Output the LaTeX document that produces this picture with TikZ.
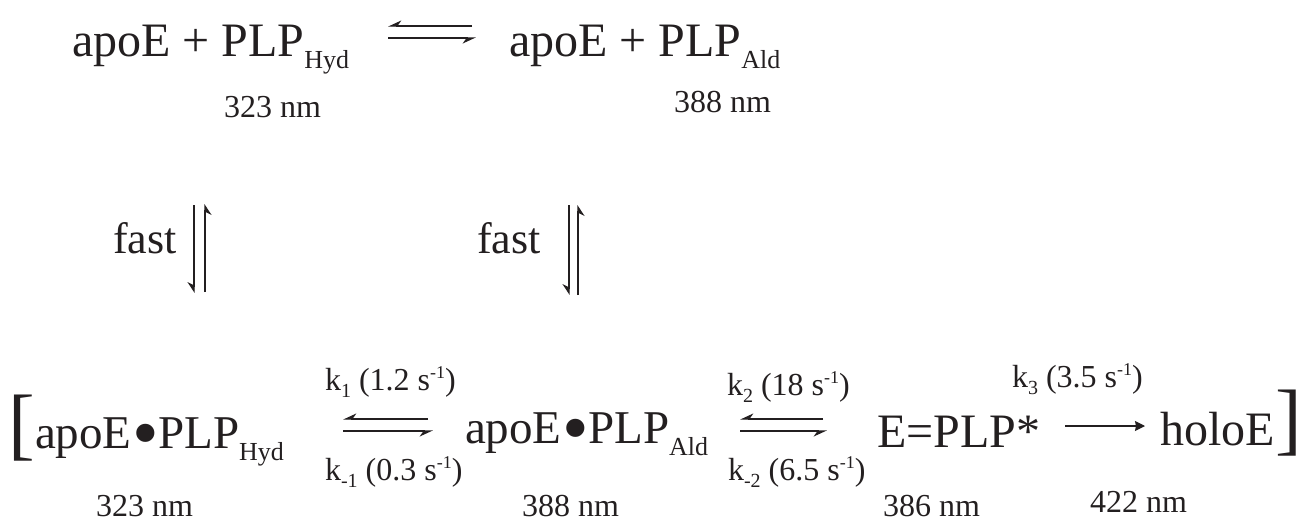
\documentclass[tikz,border=0pt]{standalone}
\usepackage{fontspec}
\setmainfont{Liberation Serif}
\usetikzlibrary{arrows.meta}
\definecolor{ink}{RGB}{35,31,32}
\newcommand{\spsub}[1]{\raisebox{-12pt}{\fontsize{26}{26}\selectfont #1}}
\newcommand{\ksb}[1]{\raisebox{-7pt}{\fontsize{20}{20}\selectfont #1}}
\newcommand{\ksp}[1]{\raisebox{12pt}{\fontsize{18}{18}\selectfont #1}}
\newcommand{\bul}{\hspace{1pt}\raisebox{-10pt}{\fontsize{76}{76}\selectfont •}\hspace{-1pt}}
\begin{document}
\begin{tikzpicture}[x=1pt,y=-1pt,
  every node/.style={inner sep=0pt,outer sep=0pt,anchor=base west,text=ink},
  species/.style={font=\fontsize{48}{56}\selectfont},
  bspecies/.style={font=\fontsize{47}{54}\selectfont},
  fastlbl/.style={font=\fontsize{44}{52}\selectfont},
  small/.style={font=\fontsize{32}{38}\selectfont},
  brack/.style={font=\fontsize{80}{90}\selectfont},
  rxn/.style={draw=ink,line width=1.2pt},
  hb/.style={rxn,-{Stealth[harpoon,swap,length=12pt,width=11pt]}},
  vb/.style={rxn,-{Stealth[harpoon,swap,length=10pt,width=13pt]}},
  fwd/.style={rxn,-{Stealth[length=10pt,width=10pt,inset=1pt]}}]
\useasboundingbox (0,0) rectangle (1303,523);
% top row
\node[species] (t1) at (72,56) {apoE + PLP\spsub{Hyd}};
\node[species] (t2) at (509,56) {apoE + PLP\spsub{Ald}};
\node[small] (n1) at (224,117) {323 nm};
\node[small] (n2) at (674,112) {388 nm};
\coordinate (ta1) at (388,26); \coordinate (tb1) at (472,26);
\coordinate (ta2) at (388,38); \coordinate (tb2) at (476,38);
\draw[hb] (tb1) -- (ta1);
\draw[hb] (ta2) -- (tb2);
% middle
\node[fastlbl] (f1) at (113,253) {fast};
\node[fastlbl] (f2) at (477,253) {fast};
\coordinate (v1a) at (194,205); \coordinate (v1b) at (194,293);
\coordinate (v2a) at (205,204); \coordinate (v2b) at (205,292);
\draw[vb] (v1a) -- (v1b);
\draw[vb] (v2b) -- (v2a);
\coordinate (v3a) at (569,205); \coordinate (v3b) at (569,295);
\coordinate (v4a) at (578,205); \coordinate (v4b) at (578,295);
\draw[vb] (v3a) -- (v3b);
\draw[vb] (v4b) -- (v4a);
% bottom row
\node[brack] (lb) at (9,450) {[};
\node[bspecies] (b1) at (35,448) {apoE\bul PLP\spsub{Hyd}};
\node[small] (n3) at (96,516) {323 nm};
\node[small] (k1) at (325,390) {k\ksb{1} (1.2 s\ksp{-1})};
\node[small] (km1) at (325,480) {k\ksb{-1} (0.3 s\ksp{-1})};
\coordinate (a1) at (343,419); \coordinate (a2) at (428,419);
\coordinate (a3) at (343,431); \coordinate (a4) at (433,431);
\draw[hb] (a2) -- (a1);
\draw[hb] (a3) -- (a4);
\node[bspecies] (b2) at (465,443) {apoE\bul PLP\spsub{Ald}};
\node[small] (n4) at (522,516) {388 nm};
\node[small] (k2) at (727,395) {k\ksb{2} (18 s\ksp{-1})};
\node[small] (km2) at (728,480) {k\ksb{-2} (6.5 s\ksp{-1})};
\coordinate (c1) at (740,419); \coordinate (c2) at (823,419);
\coordinate (c3) at (740,431); \coordinate (c4) at (827,431);
\draw[hb] (c2) -- (c1);
\draw[hb] (c3) -- (c4);
\node[species] (b3) at (877,447) {E=PLP*};
\node[small] (n5) at (883,516) {386 nm};
\node[small] (k3) at (1012,387) {k\ksb{3} (3.5 s\ksp{-1})};
\coordinate (d1) at (1065,426); \coordinate (d2) at (1145,426);
\draw[fwd] (d1) -- (d2);
\node[species] (b4) at (1160,445) {holoE};
\node[brack] (rb) at (1275,445) {]};
\node[small] (n6) at (1090,512) {422 nm};
\end{tikzpicture}
\end{document}
